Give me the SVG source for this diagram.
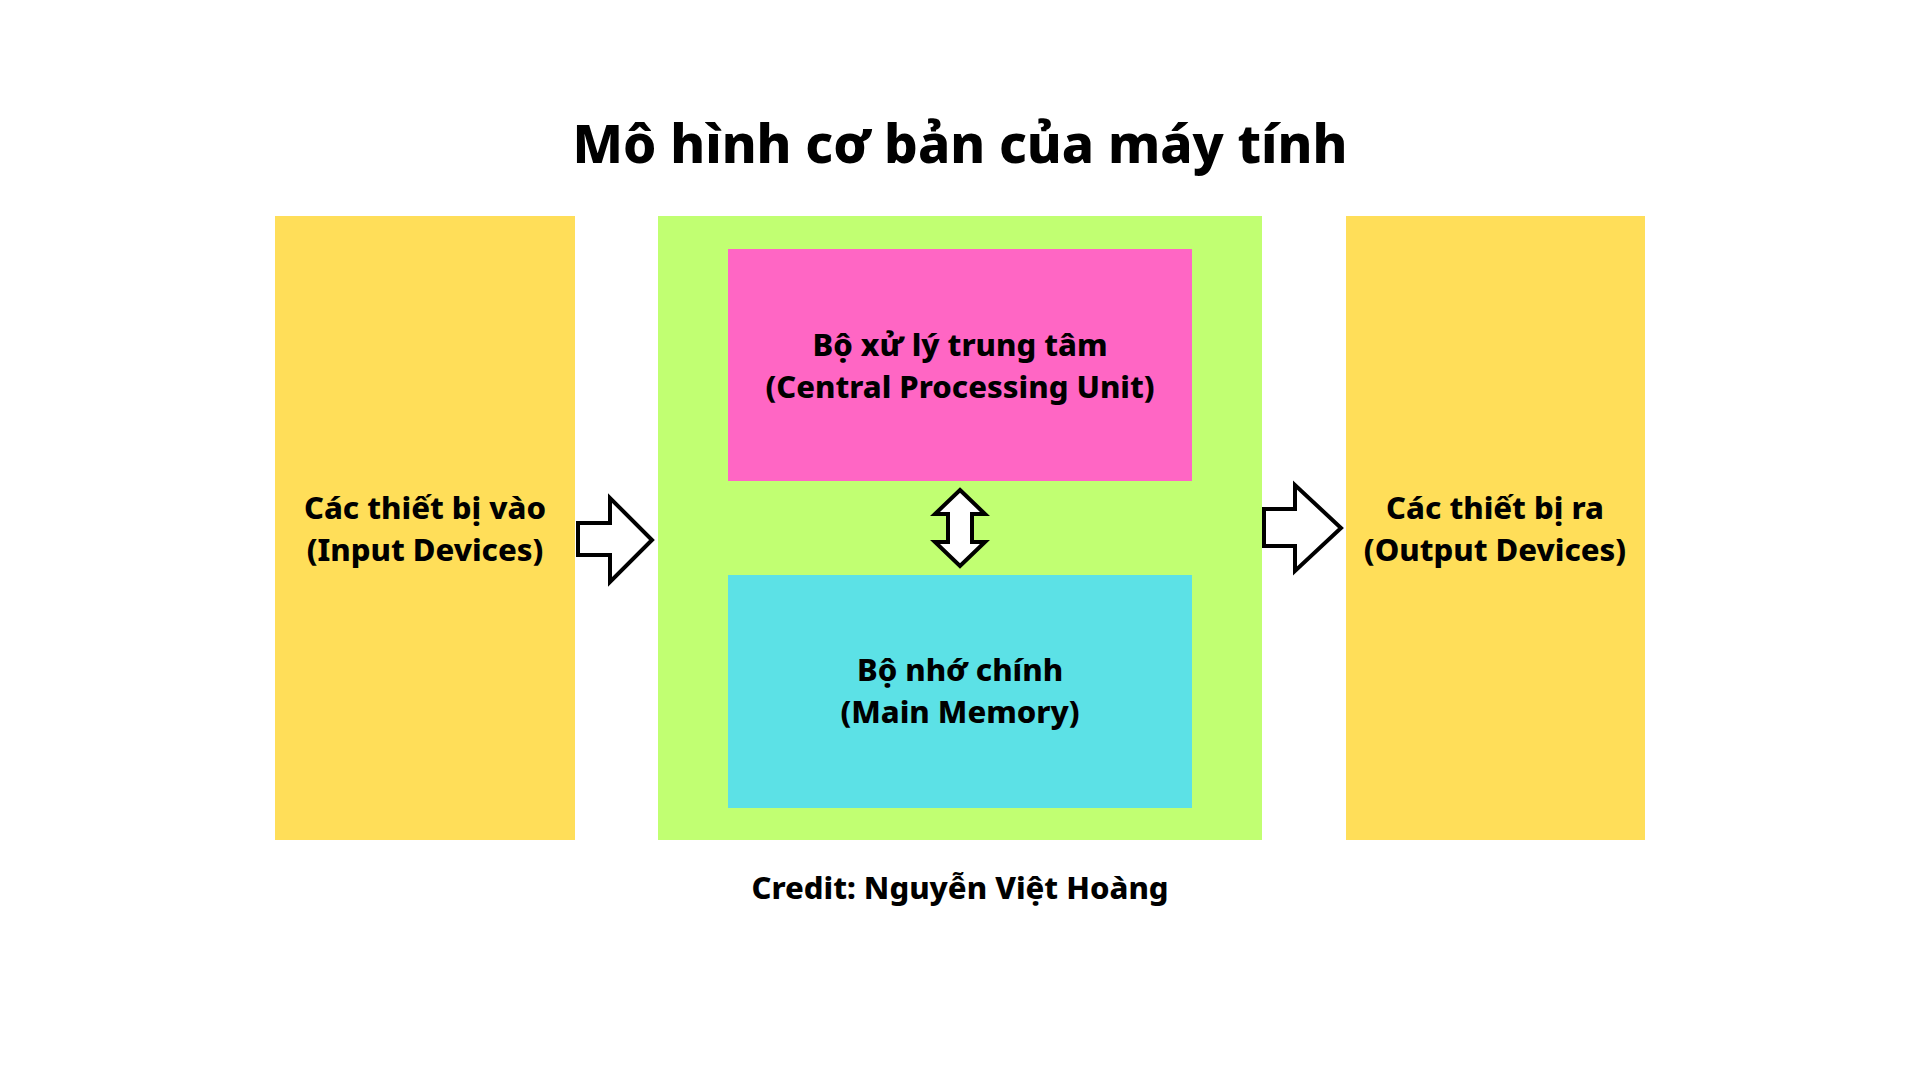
<svg xmlns="http://www.w3.org/2000/svg" width="1920" height="1080" viewBox="0 0 1920 1080">
  <style>
    .label { font-family: "Noto Sans", "Open Sans", "DejaVu Sans", sans-serif; font-weight: 800; fill: #000; text-anchor: middle; }
    .box-text { font-size: 31px; }
    .title { font-size: 53px; }
    .credit { font-size: 31px; }
    .arrow { fill: #fff; stroke: #000; stroke-width: 4; stroke-linejoin: miter; }
  </style>
  <rect width="1920" height="1080" fill="#fff"/>

  <text class="label title" x="960" y="163">Mô hình cơ bản của máy tính</text>

  <g id="input-devices">
    <rect x="275" y="216" width="300" height="624" fill="#FFDE59"/>
    <text class="label box-text" x="425" y="519">Các thiết bị vào</text>
    <text class="label box-text" x="425" y="561">(Input Devices)</text>
  </g>

  <g id="computer">
    <rect x="658" y="216" width="604" height="624" fill="#C1FF72"/>
  </g>

  <g id="cpu">
    <rect x="728" y="249" width="464" height="232" fill="#FF66C4"/>
    <text class="label box-text" x="960" y="356">Bộ xử lý trung tâm</text>
    <text class="label box-text" x="960" y="398">(Central Processing Unit)</text>
  </g>

  <g id="main-memory">
    <rect x="728" y="575" width="464" height="233" fill="#5CE1E6"/>
    <text class="label box-text" x="960" y="681">Bộ nhớ chính</text>
    <text class="label box-text" x="960" y="723">(Main Memory)</text>
  </g>

  <g id="output-devices">
    <rect x="1346" y="216" width="299" height="624" fill="#FFDE59"/>
    <text class="label box-text" x="1495" y="519">Các thiết bị ra</text>
    <text class="label box-text" x="1495" y="561">(Output Devices)</text>
  </g>

  <g id="connectors">
    <polygon class="arrow" points="578,523 610,523 610,498 652,540 610,582 610,555 578,555"/>
    <polygon class="arrow" points="1264,509 1295,509 1295,485 1341,528 1295,571 1295,546 1264,546"/>
    <polygon class="arrow" points="960,490 985,514 972,514 972,542 985,542 960,566 935,542 948,542 948,514 935,514"/>
  </g>

  <text class="label credit" x="960" y="899">Credit: Nguyễn Việt Hoàng</text>
</svg>
